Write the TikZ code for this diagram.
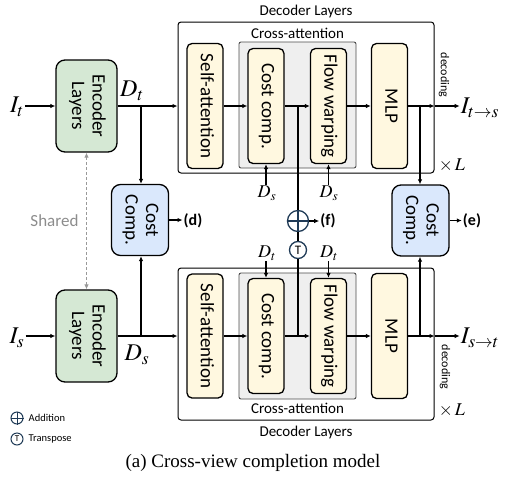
\documentclass[tikz,border=0pt]{standalone}
\usepackage{mathptmx}
\usepackage[no-math]{fontspec}
\usepackage{graphicx}
\setmainfont{Carlito}
\newfontfamily\capfont{Liberation Serif}
\usetikzlibrary{arrows.meta,positioning}

\definecolor{encgreen}{HTML}{D5E8D4}
\definecolor{costblue}{HTML}{DAE8FC}
\definecolor{attnyellow}{HTML}{FFF8E0}
\definecolor{crossgray}{HTML}{EFEFEF}
\definecolor{opnavy}{HTML}{1F3A56}

\newcommand{\vtext}[1]{\rotatebox{-90}{\begin{tabular}{@{}c@{}}#1\end{tabular}}}

\tikzset{
  blk/.style={draw, line width=1.3pt, rounded corners=5pt, inner sep=0pt, font=\fontsize{19}{20.5}\selectfont},
  enc/.style={blk, fill=encgreen, minimum width=61pt, minimum height=92pt, rounded corners=9pt},
  cost/.style={blk, fill=costblue, minimum width=57pt, minimum height=71pt, rounded corners=9pt},
  attn/.style={blk, fill=attnyellow, minimum width=36pt},
  outer/.style={draw, line width=1pt, rounded corners=3pt, minimum width=256pt},
  crossbox/.style={draw=black!70, fill=crossgray, line width=0.9pt, rounded corners=2pt, minimum width=117pt, minimum height=126pt},
  conn/.style={line width=1.1pt},
  lbl/.style={font=\fontsize{15}{17}\selectfont},
  symbig/.style={font=\fontsize{24}{26}\selectfont, inner sep=1pt},
  symsmall/.style={font=\fontsize{18}{20}\selectfont, inner sep=1pt},
  tag/.style={font=\bfseries\fontsize{16}{18}\selectfont, inner sep=1pt},
  opcirc/.style={circle, draw=opnavy, line width=1.3pt, inner sep=0pt},
  keytext/.style={font=\fontsize{10.5}{12}\selectfont, inner sep=0pt},
}

\begin{document}
\begin{tikzpicture}[x=1pt,y=-1pt,>={Latex[length=5pt,width=4.5pt]}]
\useasboundingbox (0,0) rectangle (506,480);

% decoder frames
\node [outer, minimum height=151pt] (decT) at (306,97.5) {};
\node [lbl] at (306,11) {Decoder Layers};
\node [crossbox] (caT) at (297.5,105) {};
\node [lbl] at (297.5,33) {Cross-attention};
\node [outer, minimum height=152pt] (decB) at (306,344) {};
\node [lbl] at (306,432) {Decoder Layers};
\node [crossbox] (caB) at (297.5,336) {};
\node [lbl] at (297.5,408) {Cross-attention};

% target view branch
\node [symbig] (It) at (17,107) {$I_t$};
\node [enc] (encT) at (86.5,106) {\vtext{Encoder\\Layers}};
\node [symbig] (Dt) at (132,91) {$D_t$};
\node [attn, minimum height=125pt] (saT) at (205,106) {\vtext{Self-attention}};
\node [attn, minimum height=115pt] (ccT) at (266,106) {\vtext{Cost comp.}};
\node [attn, minimum height=115pt] (fwT) at (328.5,106) {\vtext{Flow warping}};
\node [attn, minimum height=125pt] (mlpT) at (389.5,106) {\vtext{MLP}};
\node [symbig] (Its) at (480,108) {$I_{t\to s}$};
\node [symsmall] (dsA) at (267,193) {$D_s$};
\node [symsmall] (dsB) at (329,193) {$D_s$};

% source view branch
\node [symbig] (Is) at (17,338) {$I_s$};
\node [enc] (encB) at (86.5,336) {\vtext{Encoder\\Layers}};
\node [symbig] (Ds) at (137,355) {$D_s$};
\node [attn, minimum height=124pt] (saB) at (205,336) {\vtext{Self-attention}};
\node [attn, minimum height=115pt] (ccB) at (266,336) {\vtext{Cost comp.}};
\node [attn, minimum height=115pt] (fwB) at (328.5,336) {\vtext{Flow warping}};
\node [attn, minimum height=125pt] (mlpB) at (389.5,336) {\vtext{MLP}};
\node [symbig] (Ist) at (480,338) {$I_{s\to t}$};
\node [symsmall] (dtA) at (267,253) {$D_t$};
\node [symsmall] (dtB) at (329,253) {$D_t$};

% cost heads
\node [cost] (ccd) at (140,220) {\vtext{Cost\\Comp.}};
\node [tag] (d) at (193,221) {(d)};
\node [cost] (cce) at (420.5,220.5) {\vtext{Cost\\Comp.}};
\node [tag] (e) at (472,221) {(e)};
\node [opcirc, minimum size=21pt] (plus) at (298,221) {};
\node [opcirc, minimum size=17pt, font=\fontsize{13}{13}\selectfont] (tr) at (298,250) {T};
\node [tag] (f) at (328,221) {(f)};

\node [font=\fontsize{17}{19}\selectfont, text=black!45, anchor=east] (shr) at (82,221) {Shared};
\node [font=\fontsize{12}{12}\selectfont, inner sep=0pt] at (444,75) {\rotatebox{-90}{decoding}};
\node [font=\fontsize{12}{12}\selectfont, inner sep=0pt] at (445,367) {\rotatebox{-90}{decoding}};
\node [symsmall] at (452,165) {$\times\,L$};
\node [symsmall] at (452,410) {$\times\,L$};

\coordinate (bT) at (141,106);
\coordinate (bB) at (141,336);
\coordinate (jT) at (298,106);
\coordinate (jB) at (298,336);
\coordinate (eT) at (420,106);
\coordinate (eB) at (420,336);

% top row
\draw [->, conn] (It.east |- encT.west) -- (encT.west);
\draw [->, conn] (encT.east) -- (encT.east -| decT.west);
\draw [->, conn] (bT) -- (bT |- ccd.north);
\draw [->, conn] (saT) -- (ccT);
\draw [->, conn] (ccT) -- (fwT);
\draw [->, conn] (fwT) -- (mlpT);
\draw [->, conn] (mlpT.east) -- (mlpT.east -| decT.east);
\draw [->, conn] (mlpT.east -| decT.east) -- (Its.west |- mlpT.east);
\draw [->, conn] (eT) -- (eT |- cce.north);
\draw [->, conn] (dsA.north -| ccT.south) -- (ccT.south);
\draw [->, conn] (dsB.north -| fwT.south) -- (fwT.south);

% bottom row
\draw [->, conn] (Is.east |- encB.west) -- (encB.west);
\draw [->, conn] (encB.east) -- (encB.east -| decB.west);
\draw [->, conn] (bB) -- (bB |- ccd.south);
\draw [->, conn] (saB) -- (ccB);
\draw [->, conn] (ccB) -- (fwB);
\draw [->, conn] (fwB) -- (mlpB);
\draw [->, conn] (mlpB.east) -- (mlpB.east -| decB.east);
\draw [->, conn] (mlpB.east -| decB.east) -- (Ist.west |- mlpB.east);
\draw [->, conn] (eB) -- (eB |- cce.south);
\draw [->, conn] (dtA.south -| ccB.north) -- (ccB.north);
\draw [->, conn] (dtB.south -| fwB.north) -- (fwB.north);

% shared weights and heads
\draw [<->, black!40, line width=0.9pt, dash pattern=on 3pt off 2pt] (encT.south) -- (encB.north);
\draw [->, conn] (ccd.east) -- (ccd.east -| d.west);
\draw [->, conn] (cce.east) -- (cce.east -| e.west);
\draw [conn] (jT) -- (plus.north);
\draw [conn] (plus.south) -- (tr.north);
\draw [conn] (tr.south) -- (jB);
\draw [opnavy, line width=1.3pt] (plus.north) -- (plus.south) (plus.west) -- (plus.east);
\draw [->, conn] (plus) -- (f);

% legend
\node [opcirc, minimum size=12pt, line width=1pt] (addkey) at (17,418) {};
\draw [opnavy, line width=1pt] (addkey.north) -- (addkey.south) (addkey.west) -- (addkey.east);
\node [keytext, right=5pt of addkey] {Addition};
\node [opcirc, minimum size=12pt, line width=1pt, font=\fontsize{9}{9}\selectfont] (trkey) at (17,439) {T};
\node [keytext, right=5pt of trkey] {Transpose};

\node [font=\capfont\fontsize{19}{21}\selectfont] at (253,463) {(a) Cross-view completion model};
\end{tikzpicture}
\end{document}
